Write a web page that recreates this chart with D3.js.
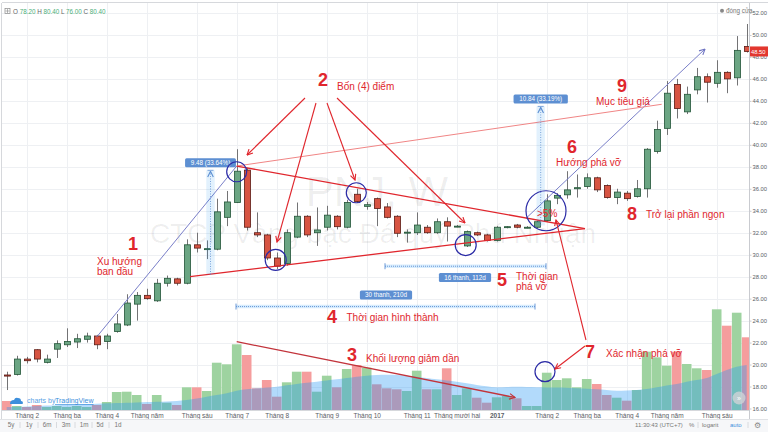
<!DOCTYPE html>
<html><head><meta charset="utf-8">
<script src="https://cdn.jsdelivr.net/npm/d3@7"></script>
<style>
body{margin:0;background:#fff;}
svg{display:block;font-family:"Liberation Sans",Arial,sans-serif;}
</style></head><body>
<svg id="c" width="768" height="432"></svg>
<script>
// ---------- DATA (weekly candles, PNJ) ----------
const opens  = [19.05,19.1,20.5,21.35,20.2,21.4,21.8,22.05,22.3,22.6, 22.1,23.0,23.6,25.5,26.3,25.8,27.4,27.8,27.4,30.9, 30.5,30.5,33.4,34.75,37.7,32.0,31.8,29.7,29.2,31.6, 33.5,32.0,32.5,33.5,32.5,35.5,34.4,35.1,34.35,33.5, 32.0,32.0,32.5,32.0,33.0,32.6,30.8,32.0,31.8,31.3, 32.5,32.7,32.5,32.5,33.1,35.15,35.45,36.0,36.2,37.0, 36.3,35.2,35.6,35.3,36.0,39.4,41.5,45.5,43.0,45.0, 46.2,45.6,46.6,46.1,48.95];
const highs  = [19.35,20.8,20.7,21.4,20.9,22.2,23.3,22.8,22.9,22.7, 22.8,24.6,26.4,26.6,26.9,27.8,28.1,27.9,31.4,32.0, 31.3,35.1,35.8,39.6,37.9,33.85,31.9,30.2,32.3,34.75, 33.6,34.3,34.45,33.6,35.0,36.0,34.8,35.2,34.7,33.6, 32.3,33.85,32.7,33.3,33.4,32.7,32.2,32.1,31.9,32.6, 32.6,32.8,32.6,33.1,35.5,35.6,37.6,37.3,37.4,37.1, 36.4,36.0,35.8,36.8,39.7,42.2,45.8,46.0,45.3,47.0, 46.5,47.7,46.7,49.9,51.0];
const lows   = [17.68,19.0,20.1,20.2,20.1,20.6,21.6,21.5,22.0,21.4, 21.4,22.9,23.5,24.0,25.9,25.7,27.1,27.2,27.3,30.2, 29.6,30.4,32.6,34.7,32.2,31.6,29.5,28.7,29.0,31.5, 31.6,30.8,32.2,32.3,32.4,34.7,34.1,32.6,33.3,31.6, 31.1,31.8,31.9,31.9,31.2,32.5,30.7,31.7,31.2,31.2, 32.4,32.4,32.4,32.4,33.0,34.6,35.1,35.2,36.0,35.7, 35.1,34.6,34.9,35.2,35.2,39.2,40.9,42.4,42.8,44.6, 43.85,45.2,44.7,45.4,48.4];
const closes = [18.95,20.5,20.35,20.5,20.5,21.9,22.1,22.35,22.6,21.8, 22.6,23.7,25.6,26.3,26.0,27.4,27.85,27.4,30.9,30.6, 30.55,33.9,34.8,37.6,32.5,31.8,29.7,28.95,32.0,33.5, 31.8,32.25,33.6,32.55,34.75,34.85,34.55,34.2,33.4,31.95, 32.05,32.7,32.0,33.0,32.6,32.6,32.1,31.8,31.3,32.5, 32.55,32.5,32.5,33.0,34.9,35.4,35.9,36.1,37.0,35.9, 35.2,35.7,35.1,36.0,39.6,41.4,44.7,43.3,44.6,46.2, 45.7,46.6,46.0,48.6,48.5];
const volumes = [90,40,30,50,30,40,30,40,30,50, 80,180,183,150,60,150,73,50,227,227, 190,473,457,657,550,217,300,133,277,383, 383,183,343,227,410,450,423,257,217,207, 190,393,207,207,417,150,217,123,73,127, 140,117,40,40,373,300,317,227,310,260, 150,123,93,200,583,527,443,583,460,417, 400,1007,843,973,727];
const volumeMA = [30,33,36,40,44,48,52,56,60,63, 67,70,73,76,79,82,85,90,100,115, 133,150,167,193,207,217,225,233,247,260, 272,283,295,307,320,333,342,350,352,350, 343,333,320,307,295,283,267,250,237,227, 230,232,230,228,226,225,222,217,212,207, 200,193,195,200,210,227,245,260,283,300, 320,360,400,433,450];
const monthTickIdx = [2,6,10,14,19,23,27,32,36,41,45,49,54,58,62,66,71];
const monthTickLabels = ["Tháng 2","Tháng ba","Tháng 4","Tháng năm","Tháng sáu","Tháng 7","Tháng 8","Tháng 9","Tháng 10","Tháng 11","Tháng mười hai","2017","Tháng 2","Tháng ba","Tháng 4","Tháng năm","Tháng sáu"];
const priceTicks = [16,18,20,22,24,26,28,30,32,34,36,38,40,42,44,46,48,50,52];
const lastPrice = 48.5;

// ---------- SETUP ----------
const svg = d3.select('#c');
const plotL = 2, plotR = 749, plotT = 3, plotB = 410;
const x = d3.scaleLinear().domain([0, 74]).range([6.7, 746.7]);
const y = d3.scaleLinear().domain([16, 52]).range([408.5, 13]);
const v = d3.scaleLinear().domain([0, 1000]).range([410, 310]);
const idx = d3.range(opens.length);
const RED = '#e0262d';

svg.append('rect').attr('width',768).attr('height',432).attr('fill','#fff');
const defs = svg.append('defs');
defs.append('clipPath').attr('id','plot').append('rect')
  .attr('x',plotL).attr('y',plotT).attr('width',plotR-plotL).attr('height',plotB-plotT);
function marker(id,color){
  defs.append('marker').attr('id',id).attr('viewBox','0 0 10 10').attr('refX',9).attr('refY',5)
    .attr('markerWidth',7).attr('markerHeight',7).attr('markerUnits','userSpaceOnUse').attr('orient','auto')
    .append('path').attr('d','M1,1 L9,5 L1,9').attr('fill','none').attr('stroke',color).attr('stroke-width',1.6);
}
marker('arR',RED); marker('arB','#7075c2'); marker('arP','#c2333b'); marker('arM','#5d8fd2');

// frame
svg.append('line').attr('x1',plotL).attr('x2',768).attr('y1',plotT-0.5).attr('y2',plotT-0.5).attr('stroke','#d6d8dc');
svg.append('line').attr('x1',plotL-0.5).attr('x2',plotL-0.5).attr('y1',plotT).attr('y2',419).attr('stroke','#d6d8dc');

// grid
const grid = svg.append('g');
grid.selectAll('line.h').data(priceTicks).join('line')
  .attr('x1',plotL).attr('x2',plotR).attr('y1',d=>Math.round(y(d))+0.5).attr('y2',d=>Math.round(y(d))+0.5)
  .attr('stroke','#eef0f3');
grid.selectAll('line.v').data(monthTickIdx).join('line')
  .attr('y1',plotT).attr('y2',plotB).attr('x1',d=>Math.round(x(d))+0.5).attr('x2',d=>Math.round(x(d))+0.5)
  .attr('stroke','#eef0f3');

// watermark
svg.append('text').attr('x',377).attr('y',206).attr('text-anchor','middle')
  .attr('font-size',42).attr('fill','#000').attr('fill-opacity',0.065).text('PNJ, W');
svg.append('text').attr('x',373).attr('y',243).attr('text-anchor','middle')
  .attr('font-size',28).attr('fill','#000').attr('fill-opacity',0.065).text('CTCP Vàng bạc Đá quý Phú Nhuận');

const plot = svg.append('g').attr('clip-path','url(#plot)');

// volume bars
plot.append('g').selectAll('rect').data(idx).join('rect')
  .attr('x',i=>x(i)-4.8).attr('width',9.6)
  .attr('y',i=>v(volumes[i])).attr('height',i=>v(0)-v(volumes[i]))
  .attr('fill',i=>closes[i]>=opens[i]?'#9ed3a0':'#f59d9d');

// line 3 (volume decreasing) under MA area
svg.append('line').attr('x1',x(23)).attr('y1',v(683)).attr('x2',x(50.83)).attr('y2',v(125))
  .attr('stroke','#c2333b').attr('stroke-width',1.3).attr('marker-end','url(#arP)');

// volume MA area
const area = d3.area().x(i=>x(i)).y0(v(0)).y1(i=>v(volumeMA[i])).curve(d3.curveMonotoneX);
plot.append('path').datum(idx).attr('d',area).attr('fill','rgb(33,150,243)').attr('fill-opacity',0.35);

// candles
const cg = plot.append('g');
cg.selectAll('line').data(idx).join('line')
  .attr('x1',i=>Math.round(x(i))+0.5).attr('x2',i=>Math.round(x(i))+0.5)
  .attr('y1',i=>y(highs[i])).attr('y2',i=>y(lows[i])).attr('stroke','#737375').attr('stroke-width',1);
cg.selectAll('rect').data(idx).join('rect')
  .attr('x',i=>Math.round(x(i))-2.5).attr('width',6)
  .attr('y',i=>y(Math.max(opens[i],closes[i])))
  .attr('height',i=>Math.max(1,Math.abs(y(opens[i])-y(closes[i]))))
  .attr('fill',i=>closes[i]>=opens[i]?'#6ba583':'#d75442')
  .attr('stroke',i=>closes[i]>=opens[i]?'#225437':'#5b1a13').attr('stroke-width',0.8);

// ---------- ANNOTATIONS ----------
const ann = svg.append('g');
function seg(a,b,c,d,color,w,mk){
  const l = ann.append('line').attr('x1',x(a)).attr('y1',y(b)).attr('x2',x(c)).attr('y2',y(d))
    .attr('stroke',color).attr('stroke-width',w);
  if(mk) l.attr('marker-end',`url(#${mk})`);
  return l;
}
// trend lines
seg(9,22.51,23,38.07,'#7a7fc9',1);
seg(51.93,33.31,69.83,48.72,'#7a7fc9',1,'arB');
// target line
seg(23,38.07,65.5,43.69,'#f08585',1);
// triangle
seg(23,38.07,57.83,32.38,RED,1.3);
seg(18.33,28.0,57.83,32.38,RED,1.3);

// measurement bands
function measure(i,p0,p1,label){
  const xc = x(i);
  ann.append('rect').attr('x',xc-4.2).attr('width',8.4).attr('y',y(p1)).attr('height',y(p0)-y(p1))
    .attr('fill','rgb(33,150,243)').attr('fill-opacity',0.13);
  ann.append('line').attr('x1',xc).attr('x2',xc).attr('y1',y(p0)).attr('y2',y(p1)+1)
    .attr('stroke','#5d8fd2').attr('stroke-width',0.8).attr('stroke-dasharray','1,1.5').attr('marker-end','url(#arM)');
  ann.append('line').attr('x1',xc-3).attr('x2',xc+3).attr('y1',y(p1)).attr('y2',y(p1)).attr('stroke','#5d8fd2').attr('stroke-width',0.8);
  const lw = label.length*3.45+6;
  ann.append('rect').attr('x',xc-lw/2).attr('y',y(p1)-12).attr('width',lw).attr('height',9).attr('rx',1.5).attr('fill','#5d8fd2');
  ann.append('text').attr('x',xc).attr('y',y(p1)-5.3).attr('text-anchor','middle').attr('font-size',6.3)
    .attr('fill','#fff').text(label);
}
measure(20.38,28.2,37.68,'9.48 (33.64%)');
measure(53.4,32.66,43.5,'10.84 (33.19%)');

// date ranges
function dateRange(i0,i1,p,label,lx,ly){
  const yy = y(p);
  ann.append('line').attr('x1',x(i0)).attr('x2',x(i1)).attr('y1',yy).attr('y2',yy)
    .attr('stroke','rgb(33,150,243)').attr('stroke-opacity',0.18).attr('stroke-width',3.5);
  ann.append('line').attr('x1',x(i0)).attr('x2',x(i1)).attr('y1',yy).attr('y2',yy)
    .attr('stroke','#5d8fd2').attr('stroke-width',0.9).attr('stroke-dasharray','1,1');
  [i0,i1].forEach(k=>ann.append('line').attr('x1',x(k)).attr('x2',x(k)).attr('y1',yy-3).attr('y2',yy+3)
    .attr('stroke','#5d8fd2').attr('stroke-width',0.9));
  const lw = label.length*3.3+6;
  ann.append('rect').attr('x',lx-lw/2).attr('y',ly-4.5).attr('width',lw).attr('height',9).attr('rx',1.5).attr('fill','#5d8fd2');
  ann.append('text').attr('x',lx).attr('y',ly+2.2).attr('text-anchor','middle').attr('font-size',6.3)
    .attr('fill','#fff').text(label);
}
dateRange(37.83,53.93,28.95,'16 thanh, 112d',465,277.5);
dateRange(22.93,52.83,25.28,'30 thanh, 210d',386,295);

// circles
const circ = [[23,37.55,10],[26.9,29.52,10.5],[34.96,35.64,10],[45.9,30.88,10.5],[53.93,34.0,20]];
circ.forEach(c=>ann.append('circle').attr('cx',x(c[0])).attr('cy',y(c[1])).attr('r',c[2])
  .attr('fill','none').attr('stroke','#2b2ba6').attr('stroke-width',1.2));
ann.append('circle').attr('cx',x(53.83)).attr('cy',v(383)).attr('r',10)
  .attr('fill','none').attr('stroke','#2b2ba6').attr('stroke-width',1.2);

// callout arrows (pixel layout)
const arrows = [[305,98,247,155],[316,103,277,242],[327,103,355,180],[337,98,465,223],[585,346,555,369],[586,340,556,220]];
arrows.forEach(a=>ann.append('line').attr('x1',a[0]).attr('y1',a[1]).attr('x2',a[2]).attr('y2',a[3])
  .attr('stroke',RED).attr('stroke-width',1.1).attr('marker-end','url(#arR)'));

// labels
const nums = [['1',133,250],['2',323,86],['3',352,361],['4',332,322.5],['5',502,286],['6',572,152.5],['7',590,358],['8',632,219.5],['9',622,91.5]];
nums.forEach(n=>ann.append('text').attr('x',n[1]).attr('y',n[2]).attr('text-anchor','middle')
  .attr('font-size',18).attr('font-weight','bold').attr('fill',RED).text(n[0]));
const labs = [['Xu hướng',97,265],['ban đầu',97,275],['Bốn (4) điểm',337,90],['Khối lượng giảm dần',366,362],
  ['Thời gian hình thành',346.5,321],['Thời gian',516,280],['phá vỡ',516,290],['Hướng phá vỡ',556,166],
  ['Xác nhận phá vỡ',606,357],['Trở lại phần ngọn',646,218],['Mục tiêu giá',596,105],['>5%',537,216.5]];
labs.forEach(l=>ann.append('text').attr('x',l[1]).attr('y',l[2]).attr('font-size',10)
  .attr('fill',RED).text(l[0]));

// ---------- AXES ----------
svg.append('line').attr('x1',plotR+0.5).attr('x2',plotR+0.5).attr('y1',plotT).attr('y2',419).attr('stroke','#c9cbd0');
svg.append('line').attr('x1',plotL).attr('x2',plotR).attr('y1',plotB+0.5).attr('y2',plotB+0.5).attr('stroke','#d6d8dc');
const ya = svg.append('g').attr('transform',`translate(${plotR+0.5},0)`)
  .call(d3.axisRight(y).tickValues(priceTicks).tickFormat(d3.format('.2f')).tickSize(2).tickPadding(1));
ya.select('.domain').remove();
ya.selectAll('line').attr('stroke','#c9cbd0');
ya.selectAll('text').attr('font-size',5.8).attr('fill','#5a5e66').attr('font-family','"Liberation Sans",Arial,sans-serif');

const xa = svg.append('g').attr('transform',`translate(0,${plotB})`)
  .call(d3.axisBottom(x).tickValues(monthTickIdx).tickFormat((d,i)=>monthTickLabels[i]).tickSize(0).tickPadding(3));
xa.select('.domain').remove();
xa.selectAll('text').attr('font-size',6.5).attr('fill','#5a5e66').attr('font-family','"Liberation Sans",Arial,sans-serif')
  .attr('font-weight',(d,i)=>monthTickLabels[i]==='2017'?'bold':'normal');

// last price label
svg.append('rect').attr('x',plotR+1).attr('y',y(lastPrice)-5).attr('width',19).attr('height',10).attr('fill','#e2372f');
svg.append('text').attr('x',plotR+2).attr('y',y(lastPrice)+2.2).attr('font-size',5.8).attr('fill','#fff').text(d3.format('.2f')(lastPrice));

// header legend
svg.append('rect').attr('x',5).attr('y',8.5).attr('width',5).attr('height',5).attr('fill','none').attr('stroke','#888').attr('stroke-width',0.7);
svg.append('line').attr('x1',7.5).attr('x2',7.5).attr('y1',9).attr('y2',13).attr('stroke','#888').attr('stroke-width',0.6);
svg.append('line').attr('x1',5.5).attr('x2',9.5).attr('y1',11).attr('y2',11).attr('stroke','#888').attr('stroke-width',0.6);
const lg = svg.append('text').attr('x',13).attr('y',13.5).attr('font-size',6.3);
[['O ','#666'],['78.20 ','#4caf7a'],['H ','#666'],['80.40 ','#4caf7a'],['L ','#666'],['76.00 ','#4caf7a'],['C ','#666'],['80.40','#4caf7a']]
  .forEach(t=>lg.append('tspan').attr('fill',t[1]).text(t[0]));
svg.append('circle').attr('cx',722).attr('cy',10.7).attr('r',2).attr('fill','#888');
svg.append('text').attr('x',726).attr('y',13).attr('font-size',6.3).attr('fill','#777').text('đóng cửa');

// tradingview logo
svg.append('path').attr('d','M10,404 q0,-4 4,-4 q1,-3 4,-2 q3,0 3,3 q2,0 2,2 q0,1 -1,1 Z').attr('fill','#3d8fdc');
svg.append('text').attr('x',27).attr('y',403).attr('font-size',7).attr('fill','#5aa2e6').text('charts by ');
svg.append('text').attr('x',55).attr('y',403).attr('font-size',7).attr('fill','#3d8fdc').attr('text-decoration','underline').text('TradingView');

// scroll button
svg.append('circle').attr('cx',739).attr('cy',398).attr('r',6.5).attr('fill','#cfd2d6').attr('fill-opacity',0.8);
svg.append('text').attr('x',739).attr('y',400.5).attr('text-anchor','middle').attr('font-size',7).attr('fill','#fff').text('»');

// bottom toolbar
svg.append('rect').attr('x',0).attr('y',419).attr('width',768).attr('height',13).attr('fill','#f6f7f9');
svg.append('line').attr('x1',0).attr('x2',768).attr('y1',419.5).attr('y2',419.5).attr('stroke','#e1e3e6');
const tb = [['5y',11],['1y',29],['6m',47],['3m',66],['1m',84],['5d',100],['1d',118]];
tb.forEach((t,k)=>{
  svg.append('text').attr('x',t[1]).attr('y',427).attr('text-anchor','middle').attr('font-size',6.3).attr('fill','#777').text(t[0]);
  if(k<tb.length-1) svg.append('line').attr('x1',(t[1]+tb[k+1][1])/2).attr('x2',(t[1]+tb[k+1][1])/2)
    .attr('y1',422).attr('y2',428).attr('stroke','#d8dade');
});
svg.append('text').attr('x',635).attr('y',427).attr('font-size',6).attr('fill','#777').text('11:30:43 (UTC+7)');
svg.append('text').attr('x',689).attr('y',427).attr('font-size',6).attr('fill','#777').text('%');
svg.append('line').attr('x1',698).attr('x2',698).attr('y1',422).attr('y2',428).attr('stroke','#d8dade');
svg.append('text').attr('x',702).attr('y',427).attr('font-size',6).attr('fill','#777').text('logarit');
svg.append('text').attr('x',730).attr('y',427).attr('font-size',6).attr('fill','#3d8fdc').text('auto');
svg.append('line').attr('x1',748).attr('x2',748).attr('y1',422).attr('y2',428).attr('stroke','#d8dade');
svg.append('text').attr('x',757).attr('y',427.5).attr('text-anchor','middle').attr('font-size',7.5).attr('fill','#888').text('⚙');
</script>
</body></html>
